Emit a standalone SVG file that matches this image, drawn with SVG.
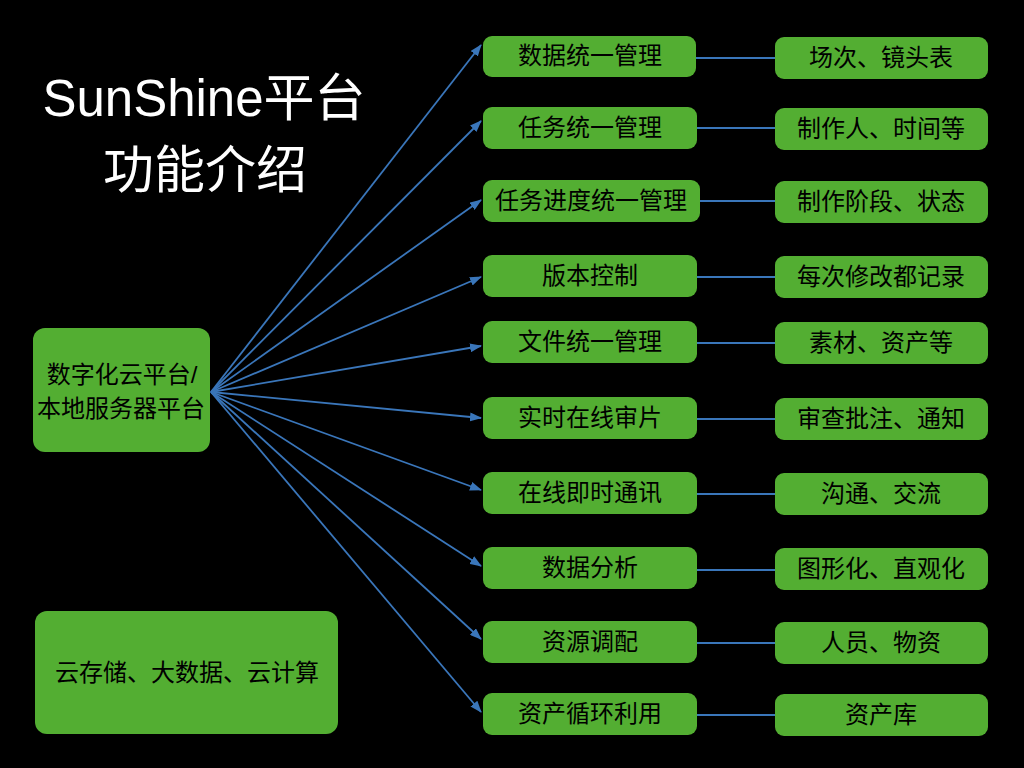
<svg xmlns="http://www.w3.org/2000/svg" width="1024" height="768" viewBox="0 0 1024 768">
<defs>
<style>
.box{fill:#53AE32;}
.t{font-family:"Liberation Sans","Noto Sans CJK SC",sans-serif;font-size:24px;fill:#000;text-anchor:middle;}
.title{font-family:"Liberation Sans","Noto Sans CJK SC",sans-serif;font-size:51px;fill:#fff;text-anchor:middle;}
.c{stroke:#3A76BA;stroke-width:1.8;fill:none;}
.a{marker-end:url(#ah);}
</style>
<marker id="ah" viewBox="0 0 12 9" refX="11" refY="4.5" markerWidth="12" markerHeight="9" markerUnits="userSpaceOnUse" orient="auto">
<path d="M0,0 L12,4.5 L0,9 z" fill="#3A76BA"/>
</marker>
</defs>
<rect width="1024" height="768" fill="#000"/>
<g id="title">
<text class="title" x="204" y="116">SunShine平台</text>
<text class="title" x="205" y="188">功能介绍</text>
</g>
<g id="connectors">
<line class="c a" x1="211" y1="392" x2="481" y2="45"/>
<line class="c a" x1="211" y1="392" x2="481" y2="121"/>
<line class="c a" x1="211" y1="392" x2="481" y2="200"/>
<line class="c a" x1="211" y1="392" x2="481" y2="277"/>
<line class="c a" x1="211" y1="392" x2="481" y2="346"/>
<line class="c a" x1="211" y1="392" x2="481" y2="418"/>
<line class="c a" x1="211" y1="392" x2="481" y2="490"/>
<line class="c a" x1="211" y1="392" x2="481" y2="566"/>
<line class="c a" x1="211" y1="392" x2="481" y2="639"/>
<line class="c a" x1="211" y1="392" x2="481" y2="712"/>
<line class="c" x1="696" y1="58" x2="775" y2="58"/>
<line class="c" x1="697" y1="128" x2="775" y2="128"/>
<line class="c" x1="700" y1="201" x2="775" y2="201"/>
<line class="c" x1="697" y1="277" x2="775" y2="277"/>
<line class="c" x1="697" y1="343" x2="775" y2="343"/>
<line class="c" x1="697" y1="419" x2="775" y2="419"/>
<line class="c" x1="697" y1="494" x2="775" y2="494"/>
<line class="c" x1="697" y1="570" x2="775" y2="570"/>
<line class="c" x1="697" y1="643" x2="775" y2="643"/>
<line class="c" x1="697" y1="715" x2="775" y2="715"/>
</g>
<g id="n-main"><rect class="box" x="33" y="328" width="177" height="124" rx="12"/><text class="t" x="122" y="383">数字化云平台/</text><text class="t" x="121" y="417">本地服务器平台</text></g>
<g id="n-cloud"><rect class="box" x="35" y="611" width="303" height="123" rx="12"/><text class="t" x="187" y="681">云存储、大数据、云计算</text></g>
<g id="n1"><rect class="box" x="483" y="36" width="213" height="41" rx="9"/><text class="t" x="590" y="64">数据统一管理</text></g>
<g id="n2"><rect class="box" x="483" y="107" width="214" height="42" rx="9"/><text class="t" x="590" y="136">任务统一管理</text></g>
<g id="n3"><rect class="box" x="483" y="180" width="217" height="42" rx="9"/><text class="t" x="591" y="209">任务进度统一管理</text></g>
<g id="n4"><rect class="box" x="483" y="255" width="214" height="42" rx="9"/><text class="t" x="590" y="284">版本控制</text></g>
<g id="n5"><rect class="box" x="483" y="321" width="214" height="42" rx="9"/><text class="t" x="590" y="350">文件统一管理</text></g>
<g id="n6"><rect class="box" x="483" y="397" width="214" height="42" rx="9"/><text class="t" x="590" y="426">实时在线审片</text></g>
<g id="n7"><rect class="box" x="483" y="472" width="214" height="42" rx="9"/><text class="t" x="590" y="501">在线即时通讯</text></g>
<g id="n8"><rect class="box" x="483" y="547" width="214" height="42" rx="9"/><text class="t" x="590" y="576">数据分析</text></g>
<g id="n9"><rect class="box" x="483" y="621" width="214" height="42" rx="9"/><text class="t" x="590" y="650">资源调配</text></g>
<g id="n10"><rect class="box" x="483" y="693" width="214" height="42" rx="9"/><text class="t" x="590" y="722">资产循环利用</text></g>
<g id="r1"><rect class="box" x="775" y="37" width="213" height="42" rx="9"/><text class="t" x="881" y="66">场次、镜头表</text></g>
<g id="r2"><rect class="box" x="775" y="108" width="213" height="42" rx="9"/><text class="t" x="881" y="137">制作人、时间等</text></g>
<g id="r3"><rect class="box" x="775" y="181" width="213" height="42" rx="9"/><text class="t" x="881" y="210">制作阶段、状态</text></g>
<g id="r4"><rect class="box" x="775" y="256" width="213" height="42" rx="9"/><text class="t" x="881" y="285">每次修改都记录</text></g>
<g id="r5"><rect class="box" x="775" y="322" width="213" height="42" rx="9"/><text class="t" x="881" y="351">素材、资产等</text></g>
<g id="r6"><rect class="box" x="775" y="398" width="213" height="42" rx="9"/><text class="t" x="881" y="427">审查批注、通知</text></g>
<g id="r7"><rect class="box" x="775" y="473" width="213" height="42" rx="9"/><text class="t" x="881" y="502">沟通、交流</text></g>
<g id="r8"><rect class="box" x="775" y="548" width="213" height="42" rx="9"/><text class="t" x="881" y="577">图形化、直观化</text></g>
<g id="r9"><rect class="box" x="775" y="622" width="213" height="42" rx="9"/><text class="t" x="881" y="651">人员、物资</text></g>
<g id="r10"><rect class="box" x="775" y="694" width="213" height="42" rx="9"/><text class="t" x="881" y="723">资产库</text></g>
</svg>
